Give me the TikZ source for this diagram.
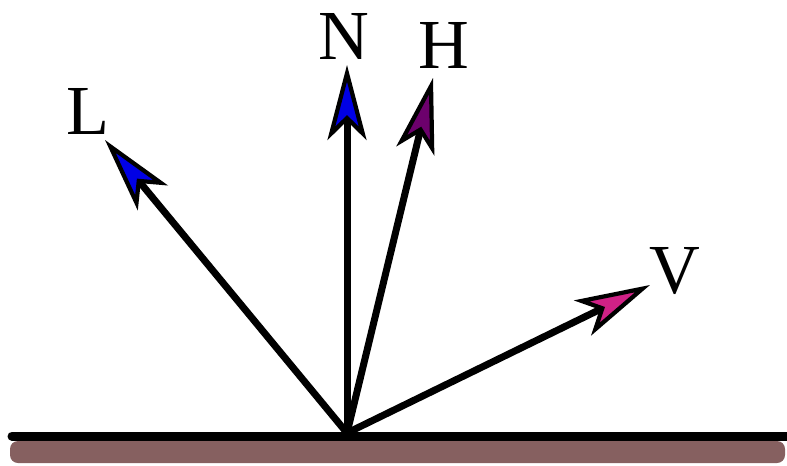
\documentclass[tikz,border=0pt]{standalone}
\usepackage{fontspec}
\setmainfont{Liberation Serif}
\usepackage{tikz}
\usetikzlibrary{arrows.meta,positioning}

\begin{document}
\begin{tikzpicture}[
    x=0.02cm, y=-0.02cm,
    vec/.style={line width=0.14cm, draw=black, -{Stealth[length=1.5cm, width=0.78cm, inset=0.38cm, line width=2.4pt, fill=#1]}},
    lbl/.style={font=\fontsize{40}{44}\selectfont, inner sep=0pt},
    surface/.style={fill=brown2, draw=none, rounded corners=0.16cm}
]
    \definecolor{brown2}{RGB}{134,96,96}
    \useasboundingbox (0,0) rectangle (787,466);

    % Surface
    \fill[surface] (10,441) rectangle (785,463);
    \draw[line width=0.18cm, line cap=round] (12,436) -- (787,436);

    % Point and vector tips
    \coordinate (O) at (347,433);
    \coordinate (tipL) at (105,140);
    \coordinate (tipN) at (347,65);
    \coordinate (tipH) at (433,78);
    \coordinate (tipV) at (650,285);

    % Labels
    \node[lbl] (L) at (88,111) {L};
    \node[lbl] (N) at (344,36) {N};
    \node[lbl] (H) at (444,45) {H};
    \node[lbl] (V) at (675,271) {V};

    % Vectors
    \draw[vec=blue!90!black] (O) -- (tipL);
    \draw[vec=blue!90!black] (O) -- (tipN);
    \draw[vec=violet!85!black] (O) -- (tipH);
    \draw[vec=magenta!85!black] (O) -- (tipV);

\end{tikzpicture}
\end{document}
